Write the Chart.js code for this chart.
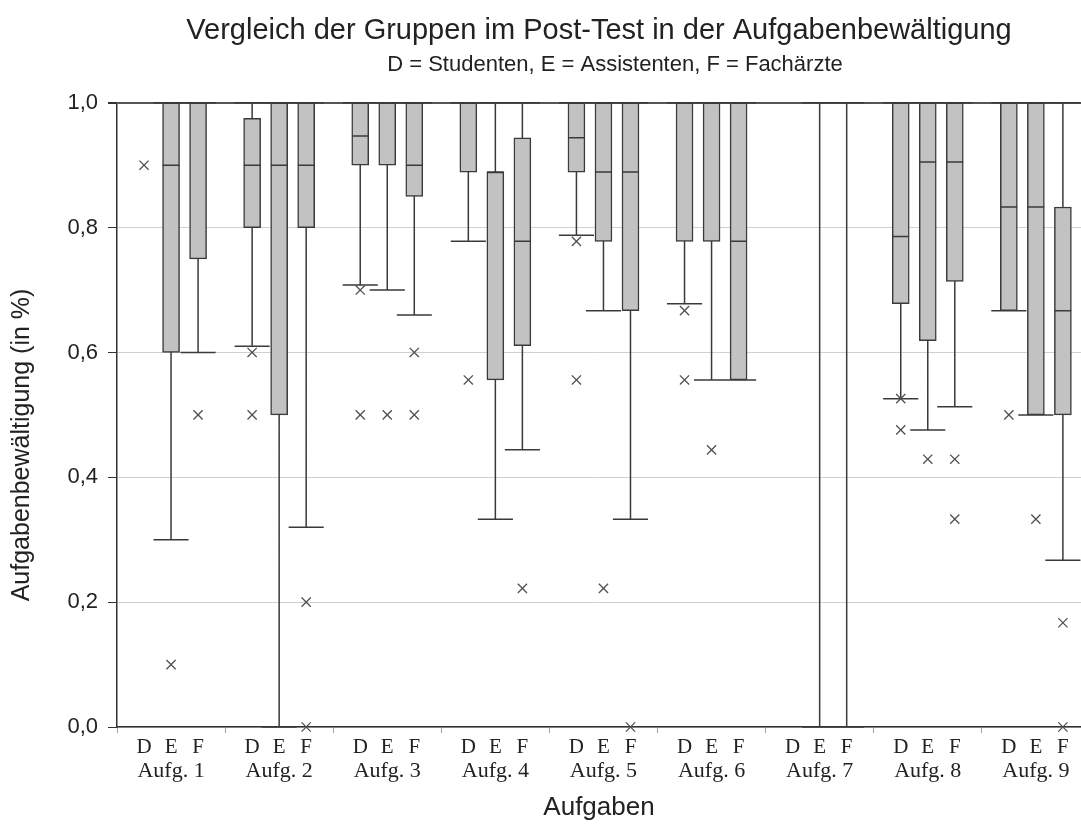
<!DOCTYPE html>
<html lang="de">
<head>
<meta charset="utf-8">
<title>Vergleich der Gruppen im Post-Test in der Aufgabenbewältigung</title>
<script src="https://cdn.jsdelivr.net/npm/chart.js@4.4.1/dist/chart.umd.min.js"></script>
<style>
  html, body { margin: 0; padding: 0; background: #fff; overflow: hidden; }
  #chart { display: block; }
</style>
</head>
<body>
<canvas id="chart" width="1081" height="830"></canvas>
<script>
const tasks = ["Aufg. 1", "Aufg. 2", "Aufg. 3", "Aufg. 4", "Aufg. 5", "Aufg. 6", "Aufg. 7", "Aufg. 8", "Aufg. 9"];
const groupCodes = ["D", "E", "F"];
const yTicks = [0, 0.2, 0.4, 0.6, 0.8, 1.0];

// D = Studenten
const studentsQ1 = [null, 0.8, 0.9, 0.889, 0.889, 0.778, null, 0.678, 0.667];
const studentsMedian = [null, 0.9, 0.947, 1.0, 0.944, 1.0, null, 0.786, 0.833];
const studentsQ3 = [null, 0.975, 1.0, 1.0, 1.0, 1.0, null, 1.0, 1.0];
const studentsLow = [null, 0.61, 0.708, 0.778, 0.788, 0.678, null, 0.526, 0.667];
const studentsHigh = [null, 1.0, 1.0, 1.0, 1.0, 1.0, null, 1.0, 1.0];
const studentsOutliers = [[0.9], [0.6, 0.5], [0.7, 0.5], [0.556], [0.778, 0.556], [0.667, 0.556], [], [0.526, 0.476], [0.5]];

// E = Assistenten
const assistantsQ1 = [0.6, 0.5, 0.9, 0.556, 0.778, 0.778, null, 0.619, 0.5];
const assistantsMedian = [0.9, 0.9, 1.0, 0.889, 0.889, 1.0, null, 0.905, 0.833];
const assistantsQ3 = [1.0, 1.0, 1.0, 0.889, 1.0, 1.0, null, 1.0, 1.0];
const assistantsLow = [0.3, 0.0, 0.7, 0.333, 0.667, 0.556, 0.0, 0.476, 0.5];
const assistantsHigh = [1.0, 1.0, 1.0, 1.0, 1.0, 1.0, 1.0, 1.0, 1.0];
const assistantsOutliers = [[0.1], [], [0.5], [], [0.222], [0.444], [], [0.429], [0.333]];

// F = Fachärzte
const specialistsQ1 = [0.75, 0.8, 0.85, 0.611, 0.667, 0.556, null, 0.714, 0.5];
const specialistsMedian = [1.0, 0.9, 0.9, 0.778, 0.889, 0.778, null, 0.905, 0.667];
const specialistsQ3 = [1.0, 1.0, 1.0, 0.944, 1.0, 1.0, null, 1.0, 0.833];
const specialistsLow = [0.6, 0.32, 0.66, 0.444, 0.333, 0.556, 0.0, 0.513, 0.267];
const specialistsHigh = [1.0, 1.0, 1.0, 1.0, 1.0, 1.0, 1.0, 1.0, 1.0];
const specialistsOutliers = [[0.5], [0.2, 0.0], [0.6, 0.5], [0.222], [0.0], [], [], [0.429, 0.333], [0.167, 0.0]];

const groups = [
  { q1: studentsQ1, median: studentsMedian, q3: studentsQ3, low: studentsLow, high: studentsHigh, outliers: studentsOutliers },
  { q1: assistantsQ1, median: assistantsMedian, q3: assistantsQ3, low: assistantsLow, high: assistantsHigh, outliers: assistantsOutliers },
  { q1: specialistsQ1, median: specialistsMedian, q3: specialistsQ3, low: specialistsLow, high: specialistsHigh, outliers: specialistsOutliers },
];

const subtitleText = "D = Studenten, E = Assistenten, F = Fachärzte";
const yTitleText = "Aufgabenbewältigung (in %)";

const LINE = "#3a3a3a";
const BOX_FILL = "#c2c2c2";
const CAP_HALF = 0.65; // in slot units
const BOX_HALF = 0.31;

// every task takes 4 slots: gap, D, E, F
function slot(taskIndex, groupIndex) {
  return taskIndex * 4 + groupIndex + 1;
}

const boxDatasets = groups.map((group, g) => ({
  type: "bar",
  label: groupCodes[g],
  data: tasks
    .map((_, t) => (group.q1[t] == null ? null : { x: slot(t, g), y: [group.q1[t], group.q3[t]] }))
    .filter(Boolean),
  backgroundColor: BOX_FILL,
  borderColor: LINE,
  borderWidth: 1.5,
  borderSkipped: false,
  barThickness: 17,
  grouped: false,
  order: 2,
}));

const outlierDatasets = groups.map((group, g) => ({
  type: "scatter",
  label: groupCodes[g] + " Ausreißer",
  data: tasks.flatMap((_, t) => group.outliers[t].map((value) => ({ x: slot(t, g), y: value }))),
  pointStyle: "crossRot",
  pointRadius: 6.5,
  borderColor: "#505050",
  borderWidth: 1.3,
  clip: false,
  order: 1,
}));

const sans = "'Liberation Sans', Arial, sans-serif";
const serif = "'Liberation Serif', 'Times New Roman', serif";
const slotCount = 35.67;

const boxWhiskerPlugin = {
  id: "boxWhisker",
  beforeDatasetsDraw(chart) {
    const { ctx } = chart;
    const xScale = chart.scales.x;
    const yScale = chart.scales.y;
    ctx.save();
    ctx.strokeStyle = LINE;
    ctx.lineWidth = 1.5;
    ctx.beginPath();
    groups.forEach((group, g) => {
      tasks.forEach((_, t) => {
        if (group.low[t] == null) return;
        const center = slot(t, g);
        const cx = xScale.getPixelForValue(center);
        const yLow = yScale.getPixelForValue(group.low[t]);
        const yHigh = yScale.getPixelForValue(group.high[t]);
        const left = xScale.getPixelForValue(center - CAP_HALF);
        const right = xScale.getPixelForValue(center + CAP_HALF);
        ctx.moveTo(cx, yLow);
        ctx.lineTo(cx, yHigh);
        ctx.moveTo(left, yLow);
        ctx.lineTo(right, yLow);
        ctx.moveTo(left, yHigh);
        ctx.lineTo(right, yHigh);
      });
    });
    ctx.stroke();
    ctx.restore();
  },
  afterDatasetsDraw(chart) {
    const { ctx } = chart;
    const xScale = chart.scales.x;
    const yScale = chart.scales.y;
    ctx.save();
    ctx.strokeStyle = LINE;
    ctx.lineWidth = 1.5;
    ctx.beginPath();
    groups.forEach((group, g) => {
      tasks.forEach((_, t) => {
        if (group.median[t] == null) return;
        const center = slot(t, g);
        const ym = yScale.getPixelForValue(group.median[t]);
        ctx.moveTo(xScale.getPixelForValue(center - BOX_HALF), ym);
        ctx.lineTo(xScale.getPixelForValue(center + BOX_HALF), ym);
      });
    });
    ctx.stroke();
    ctx.restore();
  },
};

// subtitle and y-axis title sit off-centre in the original, so they are placed by hand
const sideTextPlugin = {
  id: "sideText",
  afterDraw(chart) {
    const { ctx } = chart;
    ctx.save();
    ctx.fillStyle = "#222";
    ctx.textAlign = "center";
    ctx.textBaseline = "middle";
    ctx.font = "22px " + sans;
    ctx.fillText(subtitleText, 615, 65);
    ctx.translate(22, 445);
    ctx.rotate(-Math.PI / 2);
    ctx.font = "25px " + sans;
    ctx.fillText(yTitleText, 0, 0);
    ctx.restore();
  },
};

function noSidePadding(scale) {
  scale.paddingLeft = 0;
  scale.paddingRight = 0;
}

new Chart(document.querySelector("#chart"), {
  data: { datasets: [...boxDatasets, ...outlierDatasets] },
  plugins: [boxWhiskerPlugin, sideTextPlugin],
  options: {
    responsive: false,
    animation: false,
    events: [],
    layout: { padding: 0, autoPadding: false },
    plugins: {
      legend: { display: false },
      tooltip: { enabled: false },
      title: {
        display: true,
        fullSize: false,
        text: "Vergleich der Gruppen im Post-Test in der Aufgabenbewältigung",
        color: "#222",
        font: { family: sans, size: 29, weight: "normal" },
        padding: { top: 14, bottom: 54 },
      },
      subtitle: { display: false },
    },
    scales: {
      x: {
        type: "linear",
        position: "bottom",
        offset: false,
        min: 0,
        max: slotCount,
        weight: 0,
        afterBuildTicks: (scale) => {
          scale.ticks = Array.from({ length: 36 }, (_, i) => ({ value: i }));
        },
        afterFit: (scale) => {
          scale.height = 30;
          noSidePadding(scale);
        },
        ticks: {
          autoSkip: false,
          maxRotation: 0,
          padding: 2,
          color: "#222",
          font: { family: serif, size: 21 },
          callback: (value) => ["", ...groupCodes][value % 4],
        },
        grid: {
          offset: false,
          drawOnChartArea: false,
          drawTicks: true,
          tickLength: 6,
          tickColor: (ctx) => (ctx.tick && ctx.tick.value % 4 === 0 ? "#a0a0a0" : "rgba(0,0,0,0)"),
        },
        border: { display: true, color: "#333", width: 1.5 },
      },
      x2: {
        type: "linear",
        position: "bottom",
        offset: false,
        min: 0,
        max: slotCount,
        weight: 1,
        afterBuildTicks: (scale) => {
          scale.ticks = tasks.map((_, t) => ({ value: t * 4 + 2 }));
        },
        afterFit: (scale) => {
          scale.height = 73;
          noSidePadding(scale);
        },
        ticks: {
          autoSkip: false,
          maxRotation: 0,
          padding: 1,
          color: "#222",
          font: { family: serif, size: 22 },
          callback: (value) => tasks[(value - 2) / 4],
        },
        grid: { display: false, drawTicks: false },
        border: { display: false },
        title: {
          display: true,
          text: "Aufgaben",
          color: "#222",
          font: { family: sans, size: 26 },
          padding: { top: 4, bottom: 7 },
        },
      },
      y: {
        type: "linear",
        min: 0,
        max: 1,
        afterBuildTicks: (scale) => {
          scale.ticks = yTicks.map((value) => ({ value }));
        },
        afterFit: (scale) => {
          scale.width = 117;
        },
        ticks: {
          padding: 10,
          color: "#222",
          font: { family: sans, size: 22 },
          callback: (value) => value.toFixed(1).replace(".", ","),
        },
        grid: {
          color: (ctx) => (ctx.tick && ctx.tick.value === 1 ? "#555" : "#d0d0d0"),
          lineWidth: (ctx) => (ctx.tick && ctx.tick.value === 1 ? 2 : 1),
          tickColor: "#333",
          tickLength: 9,
        },
        border: { display: true, color: "#333", width: 1.5 },
      },
    },
  },
});
</script>
</body>
</html>
